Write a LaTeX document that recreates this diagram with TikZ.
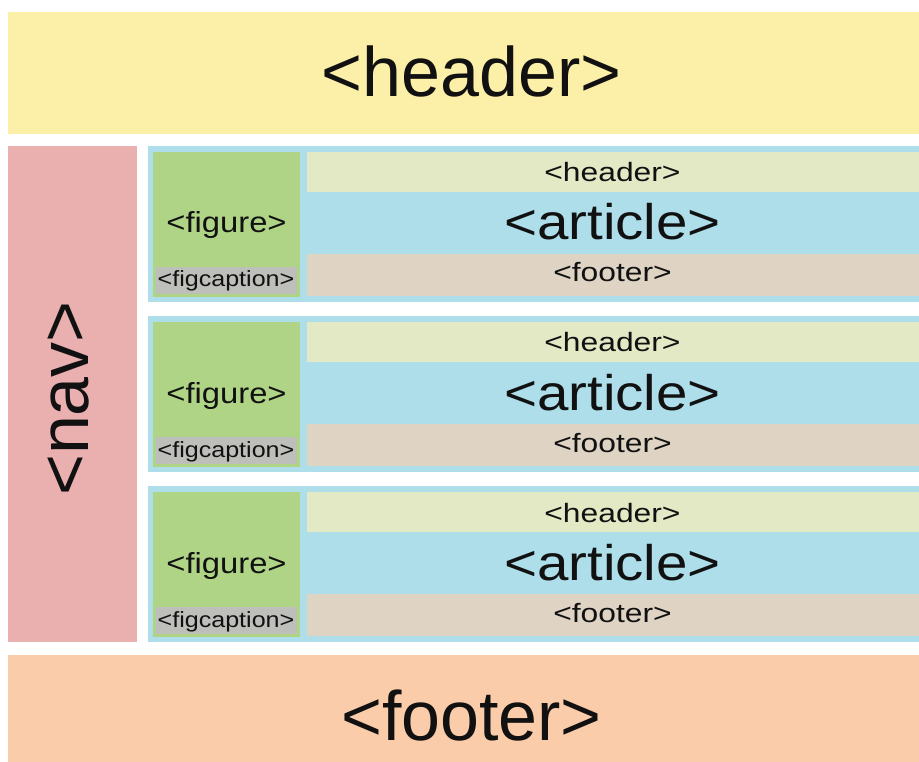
\documentclass[tikz,border=0pt]{standalone}
\usepackage{fontspec}
\setmainfont{Liberation Sans}
\definecolor{hdr}{RGB}{252,239,167}
\definecolor{navc}{RGB}{234,175,175}
\definecolor{artc}{RGB}{173,222,233}
\definecolor{figc}{RGB}{176,212,134}
\definecolor{ahdr}{RGB}{226,233,196}
\definecolor{aftr}{RGB}{223,212,196}
\definecolor{capc}{RGB}{190,190,186}
\definecolor{ftr}{RGB}{251,204,169}
\definecolor{ink}{RGB}{17,17,17}
\tikzset{
  lbl/.style={anchor=base, inner sep=0pt, text=ink},
}
\newcommand{\fsz}[1]{\fontsize{#1}{#1}\selectfont}
\begin{document}
\begin{tikzpicture}[x=1pt,y=-1pt]
\useasboundingbox (0,0) rectangle (919,762);
\fill[white] (0,0) rectangle (919,762);
% page header
\fill[hdr] (8,12) rectangle (919,134);
\node[lbl] (mainheader) at (471.5,97) {\fsz{70}<header>};
% nav
\fill[navc] (8,146) rectangle (137,642);
\node[lbl, rotate=90] (nav) at (88,398.5) {\fsz{70}<nav>};
% articles
\foreach \i/\t in {1/146,2/316,3/486}{
  \fill[artc] (148,\t) rectangle (919,\t+156);
  \fill[figc] (153,\t+6) rectangle (300,\t+151);
  \fill[capc] (156,\t+121) rectangle (297,\t+148);
  \fill[ahdr] (307,\t+6) rectangle (919,\t+46);
  \fill[aftr] (307,\t+108) rectangle (919,\t+150);
  \node[lbl] (aheader\i) at (612.5,\t+36) {\scalebox{1.2}[1]{\fsz{26.5}<header>}};
  \node[lbl] (article\i) at (612.5,\t+94) {\scalebox{1.13}[1]{\fsz{50}<article>}};
  \node[lbl] (afooter\i) at (612.5,\t+136) {\scalebox{1.2}[1]{\fsz{26.5}<footer>}};
  \node[lbl] (figure\i) at (226.5,\t+87) {\scalebox{1.13}[1]{\fsz{29}<figure>}};
  \node[lbl] (figcap\i) at (226,\t+141) {\scalebox{1.14}[1]{\fsz{22}<figcaption>}};
}
% page footer
\fill[ftr] (8,655) rectangle (919,762);
\node[lbl] (mainfooter) at (471.5,740) {\fsz{70}<footer>};
\end{tikzpicture}
\end{document}
